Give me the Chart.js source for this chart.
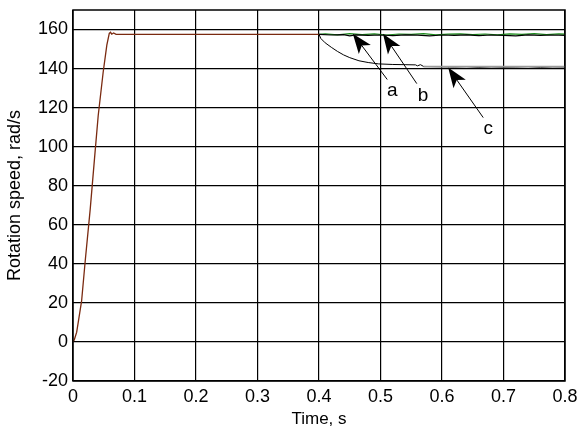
<!DOCTYPE html>
<html>
<head>
<meta charset="utf-8">
<script src="https://cdn.jsdelivr.net/npm/chart.js@4"></script>
<style>
  body { margin: 0; background: #fff; }
  #wrap { width: 581px; height: 430px; }
</style>
</head>
<body>
<div id="wrap"><canvas id="myChart" width="581" height="430"></canvas></div>
<script>
// start-up ramp (common to all runs) up to the load step at 0.4 s
const rampT = [0, 0.002, 0.006, 0.011, 0.014, 0.02, 0.028, 0.035, 0.041, 0.049, 0.055, 0.059, 0.061, 0.063, 0.066, 0.07, 0.1, 0.15, 0.2, 0.25, 0.3, 0.35, 0.4];
const rampV = [0, 1, 5, 15, 21, 42, 68, 94, 116, 138, 152, 158, 158.6, 157.6, 158.2, 157.5, 157.5, 157.5, 157.5, 157.5, 157.5, 157.5, 157.5];

// curve a : black, stays near nominal speed
const aT = [0.4, 0.42, 0.44, 0.45, 0.46, 0.48, 0.5, 0.52, 0.54, 0.56, 0.58, 0.6, 0.62, 0.64, 0.66, 0.68, 0.7, 0.72, 0.74, 0.76, 0.78, 0.8];
const aV = [157.5, 157.2, 157.4, 156.8, 157.3, 157.0, 157.2, 156.9, 157.3, 157.1, 156.8, 157.2, 157.0, 157.3, 156.9, 157.2, 157.0, 156.8, 157.3, 157.0, 157.2, 157.0];

// curve b : green
const bT = [0.4, 0.41, 0.43, 0.45, 0.47, 0.49, 0.51, 0.53, 0.55, 0.57, 0.59, 0.61, 0.63, 0.65, 0.67, 0.69, 0.71, 0.73, 0.75, 0.77, 0.79, 0.8];
const bV = [157.5, 157.8, 157.3, 157.9, 157.4, 157.8, 157.2, 157.7, 157.5, 157.9, 157.3, 157.6, 157.8, 157.4, 157.7, 157.3, 157.8, 157.5, 157.9, 157.4, 157.8, 157.6];

// curve c : speed drops to about 141 rad/s
const cT = [0.4, 0.403, 0.41, 0.42, 0.43, 0.44, 0.45, 0.465, 0.48, 0.497, 0.52, 0.54, 0.557, 0.56, 0.565, 0.57, 0.6, 0.62, 0.64, 0.66, 0.68, 0.7, 0.72, 0.74, 0.76, 0.78, 0.8];
const cV = [157.5, 155.4, 153.2, 150.9, 148.8, 147.0, 145.6, 144.0, 143.1, 142.4, 142.1, 142.0, 141.9, 141.4, 142.0, 141.1, 140.9, 140.8, 141.0, 140.6, 140.9, 140.7, 140.8, 141.0, 140.6, 140.9, 140.8];
const cGrayT = [0.57, 0.8];
const cGrayV = [141.0, 141.0];

// axis ticks
const xTicks = [0, 0.1, 0.2, 0.3, 0.4, 0.5, 0.6, 0.7, 0.8];
const yTicks = [-20, 0, 20, 40, 60, 80, 100, 120, 140, 160];

// arrows (data coordinates)
const arrowLabels = ['a', 'b', 'c'];
const arrowTipX = [0.455, 0.504, 0.610];
const arrowTipY = [157.9, 157.9, 140.5];
const arrowTailX = [0.511, 0.559, 0.667];
const arrowTailY = [134.4, 132.3, 114.9];
const labelX = [0.519, 0.569, 0.675];
const labelY = [128.8, 126.2, 109.3];

function pts(t, v){
	return t.map((x, i) => ({x: x, y: v[i]}));
}

const FONT = 'Liberation Sans, Arial, sans-serif';

const boxAndArrows = {
	id: 'boxAndArrows',
	afterDatasetsDraw(chart){
		const c = chart.ctx, a = chart.chartArea;
		const xs = chart.scales.x, ys = chart.scales.y;
		c.save();
		c.strokeStyle = '#000';
		c.lineWidth = 1.5;
		c.strokeRect(a.left, a.top, a.right - a.left, a.bottom - a.top);

		arrowLabels.forEach((lab, i) => {
			const tx = xs.getPixelForValue(arrowTipX[i]), ty = ys.getPixelForValue(arrowTipY[i]);
			const sx = xs.getPixelForValue(arrowTailX[i]), sy = ys.getPixelForValue(arrowTailY[i]);
			const ang = Math.atan2(ty - sy, tx - sx);
			const len = 20, hw = 7.5;
			c.strokeStyle = '#000';
			c.lineWidth = 1;
			c.beginPath();
			c.moveTo(sx, sy);
			c.lineTo(tx - Math.cos(ang) * 10, ty - Math.sin(ang) * 10);
			c.stroke();
			// filled head
			const bx = tx - Math.cos(ang) * len, by = ty - Math.sin(ang) * len;
			const nx = tx - Math.cos(ang) * len * 0.75, ny = ty - Math.sin(ang) * len * 0.75;
			c.fillStyle = '#000';
			c.beginPath();
			c.moveTo(tx, ty);
			c.lineTo(bx + Math.sin(ang) * hw, by - Math.cos(ang) * hw);
			c.lineTo(nx, ny);
			c.lineTo(bx - Math.sin(ang) * hw, by + Math.cos(ang) * hw);
			c.closePath();
			c.fill();

			c.font = '19px ' + FONT;
			c.textAlign = 'center';
			c.textBaseline = 'middle';
			c.fillText(lab, xs.getPixelForValue(labelX[i]), ys.getPixelForValue(labelY[i]));
		});
		c.restore();
	}
};

const ctx = document.getElementById('myChart');

new Chart(ctx, {
	type: 'scatter',
	data: {
		datasets: [
			{ data: pts(cGrayT, cGrayV), borderColor: '#9a9a9a', borderWidth: 1.8 },
			{ data: pts(cT, cV), borderColor: '#000', borderWidth: 1 },
			{ data: pts(aT, aV), borderColor: '#000', borderWidth: 1.2 },
			{ data: pts(bT, bV), borderColor: '#1a8a1a', borderWidth: 1.2 },
			{ data: pts(rampT, rampV), borderColor: '#7a2a10', borderWidth: 1.3 }
		]
	},
	options: {
		responsive: false,
		animation: false,
		showLine: true,
		elements: { point: { radius: 0 }, line: { tension: 0 } },
		layout: { padding: { top: 10, right: 16, left: 0, bottom: 0 } },
		plugins: { legend: { display: false }, tooltip: { enabled: false } },
		scales: {
			x: {
				type: 'linear', min: 0, max: 0.8,
				afterBuildTicks: (s) => { s.ticks = xTicks.map(v => ({value: v})); },
				afterFit: (s) => { s.height = 49; s.paddingLeft = 0; s.paddingRight = 0; },
				grid: { color: '#000', lineWidth: 1.2, drawTicks: false },
				border: { display: false },
				ticks: { color: '#000', font: { family: FONT, size: 18 }, padding: 5, maxRotation: 0,
					callback: (v) => String(Number(v.toFixed(1))) },
				title: { display: true, text: 'Time, s', color: '#000', font: { family: FONT, size: 17 }, padding: { top: 0, bottom: 0 } }
			},
			y: {
				type: 'linear', min: -20, max: 170,
				afterBuildTicks: (s) => { s.ticks = yTicks.map(v => ({value: v})); },
				afterFit: (s) => { s.width = 73; s.paddingTop = 0; s.paddingBottom = 0; },
				grid: { color: '#000', lineWidth: 1.2, drawTicks: false },
				border: { display: false },
				ticks: { color: '#000', font: { family: FONT, size: 18 }, padding: 5 },
				title: { display: true, text: 'Rotation speed, rad/s', color: '#000', font: { family: FONT, size: 18 }, padding: { bottom: 2 } }
			}
		}
	},
	plugins: [boxAndArrows]
});
</script>
</body>
</html>
